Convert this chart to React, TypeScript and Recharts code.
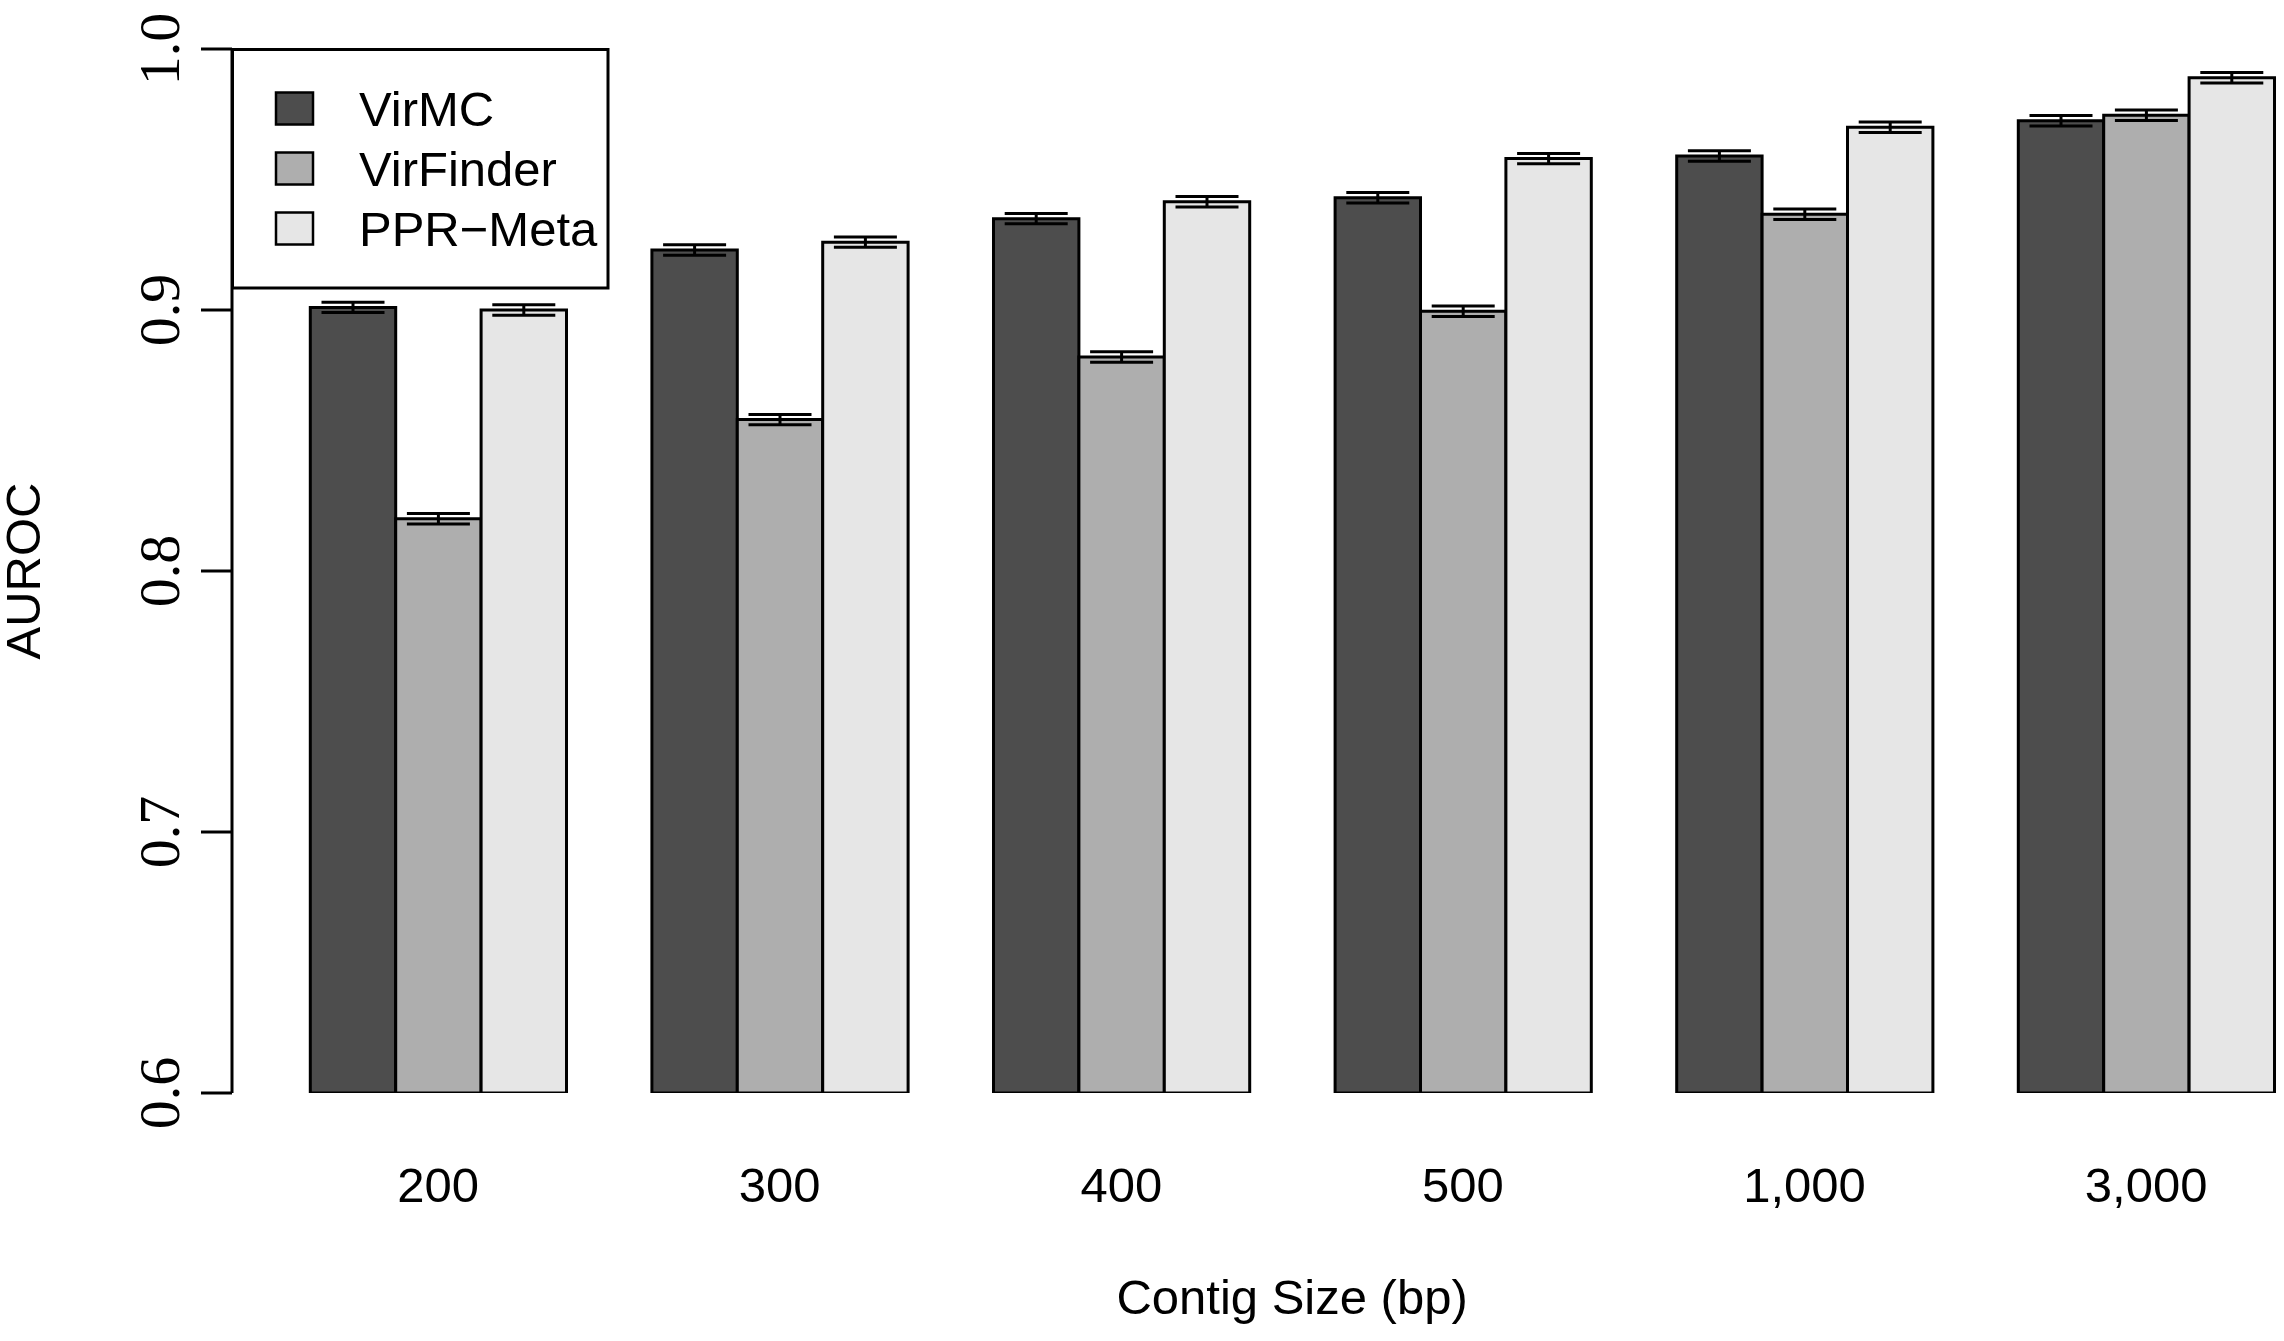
import React from 'react';
import { BarChart, Bar, XAxis, YAxis, ErrorBar, Legend } from 'recharts';

// AUROC by contig size
const sizes = ['200', '300', '400', '500', '1,000', '3,000'];
const virmc = [0.901, 0.923, 0.935, 0.943, 0.959, 0.9725];
const virfinder = [0.82, 0.858, 0.882, 0.8995, 0.9367, 0.9746];
const pprMeta = [0.9, 0.926, 0.9415, 0.958, 0.97, 0.989];
const virmcErr = [0.002, 0.002, 0.002, 0.002, 0.002, 0.002];
const virfinderErr = [0.002, 0.002, 0.002, 0.002, 0.002, 0.002];
const pprMetaErr = [0.002, 0.002, 0.002, 0.002, 0.002, 0.002];
const yTicks = [0.6, 0.7, 0.8, 0.9, 1.0];

const series = [
  { key: 'virmc', errKey: 'virmcErr', name: 'VirMC', fill: '#4D4D4D' },
  { key: 'virfinder', errKey: 'virfinderErr', name: 'VirFinder', fill: '#AEAEAE' },
  { key: 'pprMeta', errKey: 'pprMetaErr', name: 'PPR\u2212Meta', fill: '#E6E6E6' },
];

const data = sizes.map((size, i) => ({
  size,
  virmc: virmc[i],
  virmcErr: virmcErr[i],
  virfinder: virfinder[i],
  virfinderErr: virfinderErr[i],
  pprMeta: pprMeta[i],
  pprMetaErr: pprMetaErr[i],
}));

const SANS = 'Liberation Sans, Arial, sans-serif';
const SERIF = 'Liberation Serif, Times New Roman, serif';

// shifts the category band so the bar triplets sit where R's barplot put them
const PAD_LEFT = 35.3;
const PAD_RIGHT = -48.9;

const YTick = (props: any) => {
  const { x, y, payload } = props;
  return (
    <g transform={`translate(${x}, ${y}) rotate(-90)`}>
      <text x={0} y={0} textAnchor="middle" fontFamily={SERIF} fontSize={58} fill="#000">
        {Number(payload.value).toFixed(1)}
      </text>
    </g>
  );
};

const XTick = (props: any) => {
  const { x, y, payload } = props;
  return (
    <text x={x} y={y} textAnchor="middle" fontFamily={SANS} fontSize={49} fill="#000">
      {payload.value}
    </text>
  );
};

const XTitle = (props: any) => {
  const vb = props.viewBox || { x: 232, y: 1093, width: 2036, height: 248 };
  const cx = vb.x + vb.width / 2 + (PAD_LEFT - PAD_RIGHT) / 2;
  return (
    <text x={cx} y={vb.y + 221} textAnchor="middle" fontFamily={SANS} fontSize={49} fill="#000">
      Contig Size (bp)
    </text>
  );
};

const YTitle = (props: any) => {
  const vb = props.viewBox || { x: 0, y: 49, width: 232, height: 1044 };
  const x = vb.x + 40;
  const y = vb.y + vb.height / 2;
  return (
    <text x={x} y={y} transform={`rotate(-90, ${x}, ${y})`} textAnchor="middle"
      fontFamily={SANS} fontSize={49} fill="#000">
      AUROC
    </text>
  );
};

const LegendBox = () => (
  <svg width={379} height={242} style={{ display: 'block' }}>
    <rect x={1.5} y={1.5} width={375.5} height={238.5} fill="#fff" stroke="#000" strokeWidth={3} />
    {series.map((s, i) => {
      const cy = 60.5 + 60 * i;
      return (
        <g key={s.key}>
          <rect x={45} y={cy - 16} width={37} height={32} fill={s.fill} stroke="#000" strokeWidth={2.5} />
          <text x={128} y={cy + 17.5} fontFamily={SANS} fontSize={49} fill="#000">{s.name}</text>
        </g>
      );
    })}
  </svg>
);

export default function App() {
  return (
    <div style={{ position: 'absolute', left: 0, top: 0, width: 2284, height: 1341, background: '#fff' }}>
      <BarChart width={2284} height={1341} data={data} barGap={0}
        margin={{ top: 49, right: 16, bottom: 0, left: 0 }}>
        <XAxis dataKey="size" height={248} axisLine={false} tickLine={false} tickSize={0} tickMargin={109}
          padding={{ left: PAD_LEFT, right: PAD_RIGHT }} interval={0} tick={XTick} label={<XTitle />} />
        <YAxis type="number" domain={[0.6, 1.0]} ticks={yTicks} allowDataOverflow interval={0} width={232}
          axisLine={{ stroke: '#000', strokeWidth: 3 }} tickLine={{ stroke: '#000', strokeWidth: 3 }}
          tickSize={31} tickMargin={22} tick={YTick} label={<YTitle />} />
        <Legend layout="vertical" align="center" verticalAlign="middle" content={() => <LegendBox />}
          wrapperStyle={{ left: 231, top: 48, width: 379, height: 242 }} />
        {series.map((s) => (
          <Bar key={s.key} dataKey={s.key} name={s.name} fill={s.fill} stroke="#000" strokeWidth={3}
            barSize={85.4} isAnimationActive={false}>
            <ErrorBar dataKey={s.errKey} width={31.5} stroke="#000" strokeWidth={3} isAnimationActive={false} />
          </Bar>
        ))}
      </BarChart>
    </div>
  );
}
